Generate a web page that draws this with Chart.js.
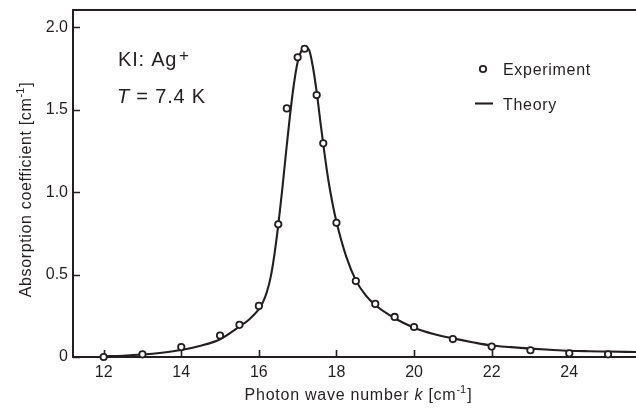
<!DOCTYPE html>
<html><head><meta charset="utf-8">
<script src="https://cdn.jsdelivr.net/npm/chart.js@4/dist/chart.umd.min.js"></script>
<style>html,body{margin:0;padding:0;background:#fff;}canvas{display:block;}</style>
</head><body>
<canvas id="c" width="636" height="409"></canvas>
<script>
// ---- data ----
const expK = [12, 13, 14, 15, 15.5, 16, 16.5, 16.72, 17.0, 17.18, 17.49, 17.66, 18, 18.5, 19, 19.5, 20, 21, 22, 23, 24, 25];
const expA = [0.0, 0.016, 0.06, 0.13, 0.195, 0.31, 0.805, 1.508, 1.818, 1.87, 1.589, 1.296, 0.814, 0.461, 0.322, 0.243, 0.182, 0.109, 0.063, 0.041, 0.022, 0.016];
const theoryK = [12, 12.5, 13, 13.5, 14, 14.5, 15, 15.5, 15.75, 16, 16.1, 16.2, 16.3, 16.4, 16.5, 16.6, 16.7, 16.8, 16.9, 17.0, 17.1, 17.2, 17.3, 17.4, 17.5, 17.6, 17.7, 17.8, 17.9, 18.0, 18.25, 18.5, 18.75, 19.0, 19.5, 20.0, 20.5, 21.0, 21.5, 22.0, 22.5, 23.0, 23.5, 24.0, 24.5, 25.0, 25.72];
const theoryA = [0.004, 0.008, 0.015, 0.026, 0.042, 0.068, 0.108, 0.185, 0.228, 0.29, 0.33, 0.39, 0.48, 0.62, 0.80, 1.01, 1.24, 1.46, 1.65, 1.79, 1.86, 1.879, 1.86, 1.75, 1.59, 1.40, 1.22, 1.06, 0.93, 0.82, 0.61, 0.465, 0.375, 0.315, 0.235, 0.178, 0.14, 0.113, 0.09, 0.07, 0.06, 0.051, 0.044, 0.038, 0.035, 0.033, 0.03];
const xTicks = [12, 14, 16, 18, 20, 22, 24];
const xTickLabels = ['12', '14', '16', '18', '20', '22', '24'];
const yTicks = [0, 0.5, 1.0, 1.5, 2.0];
const yTickLabels = ['0', '0.5', '1.0', '1.5', '2.0'];
const xRange = [11.21, 25.72];
const yRange = [0, 2.105];
const seriesNames = ['Experiment', 'Theory'];

// ---- styles ----
const FONT = "'Liberation Sans', Arial, Helvetica, sans-serif";
const INK = '#231f20';

function runs(ctx, parts, x, y, spacing, measureOnly) {
  let cx = x;
  for (const p of parts) {
    ctx.font = (p.italic ? 'italic ' : '') + p.size + 'px ' + FONT;
    ctx.letterSpacing = (p.ls !== undefined ? p.ls : spacing) + 'px';
    if (!measureOnly) ctx.fillText(p.t, cx + (p.dx || 0), y - (p.dy || 0));
    cx += ctx.measureText(p.t).width + (p.dx || 0);
  }
  ctx.letterSpacing = '0px';
  return cx - x;
}

const decor = {
  id: 'decor',
  beforeDatasetsDraw(chart) {
    const ctx = chart.ctx, a = chart.chartArea;
    const xs = chart.scales.x, ys = chart.scales.y;
    ctx.save();
    ctx.strokeStyle = INK;
    ctx.lineWidth = 2;
    ctx.beginPath();
    ctx.moveTo(a.left - 1, a.top);
    ctx.lineTo(chart.width, a.top);
    ctx.stroke();
    ctx.lineWidth = 1.6;
    ctx.beginPath();
    for (const v of xTicks) {
      const px = Math.round(xs.getPixelForValue(v)) + 0.5;
      ctx.moveTo(px, a.bottom);
      ctx.lineTo(px, a.bottom - 7);
    }
    for (const v of yTicks) {
      const py = Math.round(ys.getPixelForValue(v)) + 0.5;
      ctx.moveTo(a.left, py);
      ctx.lineTo(a.left + 7, py);
    }
    ctx.stroke();
    ctx.restore();
  },
  afterDraw(chart) {
    const ctx = chart.ctx;
    const ds = chart.data.datasets;
    ctx.save();
    ctx.fillStyle = INK;
    ctx.textBaseline = 'alphabetic';
    ctx.textAlign = 'left';

    const xt = [
      {t: 'Photon wave number ', size: 16},
      {t: 'k', size: 16, italic: true},
      {t: ' [cm', size: 16},
      {t: '-1', size: 11, dy: 7, ls: 0},
      {t: ']', size: 16, dx: 1}
    ];
    const xw = runs(ctx, xt, 0, 0, 0.75, true);
    runs(ctx, xt, 358.5 - xw / 2, 400, 0.75);

    const yt = [
      {t: 'Absorption coefficient [cm', size: 16},
      {t: '-1', size: 11, dy: 7, ls: 0},
      {t: ']', size: 16, dx: 1}
    ];
    const yw = runs(ctx, yt, 0, 0, 0.65, true);
    ctx.save();
    ctx.translate(31, 189.5);
    ctx.rotate(-Math.PI / 2);
    runs(ctx, yt, -yw / 2, 0, 0.65);
    ctx.restore();

    runs(ctx, [{t: 'KI: Ag', size: 20}], 118, 66, 0.8);
    runs(ctx, [{t: '+', size: 17}], 179, 61, 0);
    runs(ctx, [
      {t: 'T', size: 20, italic: true},
      {t: ' = 7.4 K', size: 20}
    ], 117, 103, 0.8);

    const pt = ds[0];
    ctx.beginPath();
    ctx.arc(483, 69, pt.pointRadius, 0, Math.PI * 2);
    ctx.fillStyle = pt.pointBackgroundColor;
    ctx.fill();
    ctx.lineWidth = pt.pointBorderWidth;
    ctx.strokeStyle = pt.pointBorderColor;
    ctx.stroke();
    const ln = ds[1];
    ctx.beginPath();
    ctx.moveTo(475, 103.5);
    ctx.lineTo(493, 103.5);
    ctx.lineWidth = ln.borderWidth;
    ctx.strokeStyle = ln.borderColor;
    ctx.stroke();
    ctx.fillStyle = INK;
    runs(ctx, [{t: pt.label, size: 16}], 503, 75, 0.7);
    runs(ctx, [{t: ln.label, size: 16}], 503, 109.5, 0.7);
    ctx.restore();
  }
};

new Chart(document.getElementById('c'), {
  type: 'scatter',
  data: {
    datasets: [
      {
        label: seriesNames[0],
        data: expK.map((k, i) => ({x: k, y: expA[i]})),
        showLine: false,
        pointRadius: 3.2,
        pointHoverRadius: 3.2,
        pointHitRadius: 0,
        pointBorderWidth: 1.8,
        pointBackgroundColor: '#ffffff',
        pointBorderColor: INK,
        clip: false,
        order: 0
      },
      {
        label: seriesNames[1],
        data: theoryK.map((k, i) => ({x: k, y: theoryA[i]})),
        showLine: true,
        borderColor: INK,
        borderWidth: 2.1,
        pointRadius: 0,
        pointHitRadius: 0,
        cubicInterpolationMode: 'monotone',
        fill: false,
        order: 1
      }
    ]
  },
  options: {
    responsive: false,
    animation: false,
    devicePixelRatio: 1,
    events: [],
    layout: {autoPadding: false, padding: {top: 10, left: 0, right: 0, bottom: 0}},
    plugins: {legend: {display: false}, tooltip: {enabled: false}},
    scales: {
      x: {
        type: 'linear',
        min: xRange[0], max: xRange[1],
        afterBuildTicks: s => { s.ticks = xTicks.map(v => ({value: v})); },
        afterFit: s => { s.height = 52; s.paddingLeft = 0; s.paddingRight = 0; },
        grid: {display: false, drawTicks: false},
        border: {display: true, color: INK, width: 2},
        ticks: {
          padding: 6,
          color: INK,
          font: {family: FONT, size: 16},
          maxRotation: 0,
          autoSkip: false,
          callback: (v) => { const i = xTicks.indexOf(v); return i >= 0 ? xTickLabels[i] : ''; }
        }
      },
      y: {
        type: 'linear',
        min: yRange[0], max: yRange[1],
        afterBuildTicks: s => { s.ticks = yTicks.map(v => ({value: v})); },
        afterFit: s => { s.width = 73; s.paddingTop = 0; s.paddingBottom = 0; },
        grid: {display: false, drawTicks: false},
        border: {display: true, color: INK, width: 2},
        ticks: {
          padding: 5,
          color: INK,
          font: {family: FONT, size: 16},
          autoSkip: false,
          callback: (v) => { const i = yTicks.indexOf(v); return i >= 0 ? yTickLabels[i] : ''; }
        }
      }
    }
  },
  plugins: [decor]
});
</script>
</body></html>
